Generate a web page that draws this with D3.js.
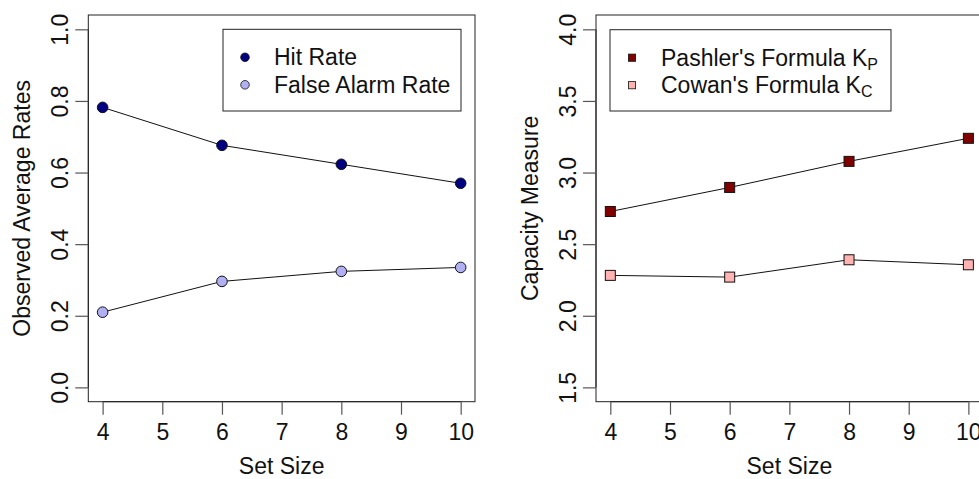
<!DOCTYPE html>
<html>
<head>
<meta charset="utf-8">
<script src="https://cdn.jsdelivr.net/npm/d3@7"></script>
<style>
  body { margin: 0; background: #fff; }
  svg { display: block; font-family: "Liberation Sans", Arial, Helvetica, sans-serif; }
</style>
</head>
<body>
<div id="chart"></div>
<script>
// values
const setSizes = [4, 6, 8, 10];
const hitRate = [0.782, 0.676, 0.623, 0.570];
const falseAlarmRate = [0.210, 0.296, 0.324, 0.335];
const pashlerK = [2.728, 2.896, 3.078, 3.239];
const cowanK = [2.282, 2.270, 2.391, 2.356];

const xTicks = [4, 5, 6, 7, 8, 9, 10];
const rateTicks = [0.0, 0.2, 0.4, 0.6, 0.8, 1.0];
const capTicks = [1.5, 2.0, 2.5, 3.0, 3.5, 4.0];

const width = 979;
const height = 479;
const fontSize = 23;

const svg = d3.select('#chart')
  .append('svg')
  .attr('width', width)
  .attr('height', height)
  .attr('font-size', fontSize);

// R-style 4% padding around the data range
function padded(lo, hi) {
  const d = (hi - lo) * 0.04;
  return [lo - d, hi + d];
}

function drawPanel(opts) {
  const { left, right, top, bottom } = opts.box;

  const x = d3.scaleLinear().domain(padded(4, 10)).range([left, right]);
  const y = d3.scaleLinear().domain(padded(opts.yMin, opts.yMax)).range([bottom, top]);

  const g = svg.append('g').attr('class', opts.name);

  // box
  g.append('rect')
    .attr('x', left)
    .attr('y', top)
    .attr('width', right - left)
    .attr('height', bottom - top)
    .attr('fill', 'none')
    .attr('stroke', '#222')
    .attr('stroke-width', 1);

  // x axis
  const xAxis = d3.axisBottom(x).tickValues(xTicks).tickSize(13).tickPadding(9).tickFormat(d3.format('d'));
  const gx = g.append('g').attr('transform', `translate(0,${bottom})`).call(xAxis);
  gx.select('.domain')
    .attr('d', `M${x(4)},0H${x(10)}`)
    .attr('stroke', '#222');
  gx.selectAll('.tick line').attr('stroke', '#555').attr('stroke-width', 1.2);
  gx.selectAll('.tick text')
    .attr('font-size', fontSize)
    .attr('font-family', 'inherit')
    .attr('fill', '#111');

  // y axis
  const yAxis = d3.axisLeft(y).tickValues(opts.yTicks).tickSize(13).tickFormat(d3.format('.1f'));
  const gy = g.append('g').attr('transform', `translate(${left},0)`).call(yAxis);
  gy.select('.domain')
    .attr('d', `M0,${y(opts.yMin)}V${y(opts.yMax)}`)
    .attr('stroke', '#222');
  gy.selectAll('.tick line').attr('stroke', '#555').attr('stroke-width', 1.2);
  gy.selectAll('.tick text')
    .attr('x', null)
    .attr('dy', null)
    .attr('transform', 'translate(-20.5,0) rotate(-90)')
    .attr('text-anchor', 'middle')
    .attr('font-size', fontSize)
    .attr('font-family', 'inherit')
    .attr('fill', '#111');

  // axis titles
  g.append('text')
    .attr('x', (left + right) / 2)
    .attr('y', 474)
    .attr('text-anchor', 'middle')
    .attr('fill', '#111')
    .text('Set Size');

  g.append('text')
    .attr('transform', `translate(${left - 58},${(top + bottom) / 2}) rotate(-90)`)
    .attr('text-anchor', 'middle')
    .attr('fill', '#111')
    .text(opts.yLabel);

  // series
  const line = d3.line().x(d => x(d[0])).y(d => y(d[1]));
  opts.series.forEach(s => {
    const pts = setSizes.map((v, i) => [v, s.values[i]]);
    g.append('path')
      .datum(pts)
      .attr('d', line)
      .attr('fill', 'none')
      .attr('stroke', '#111')
      .attr('stroke-width', 1);

    if (opts.shape === 'circle') {
      g.selectAll(null).data(pts).enter()
        .append('circle')
        .attr('cx', d => x(d[0]))
        .attr('cy', d => y(d[1]))
        .attr('r', 5.3)
        .attr('fill', s.color)
        .attr('stroke', '#111')
        .attr('stroke-width', 1);
    } else {
      g.selectAll(null).data(pts).enter()
        .append('rect')
        .attr('x', d => x(d[0]) - 5)
        .attr('y', d => y(d[1]) - 5)
        .attr('width', 10)
        .attr('height', 10)
        .attr('fill', s.color)
        .attr('stroke', '#111')
        .attr('stroke-width', 1);
    }
  });

  // legend
  const lg = opts.legend;
  g.append('rect')
    .attr('x', lg.x)
    .attr('y', lg.y)
    .attr('width', lg.w)
    .attr('height', lg.h)
    .attr('fill', '#fff')
    .attr('stroke', '#222')
    .attr('stroke-width', 1);

  opts.series.forEach((s, i) => {
    const cy = lg.y + 28 + i * 27.5;
    if (opts.shape === 'circle') {
      g.append('circle')
        .attr('cx', lg.x + 22)
        .attr('cy', cy)
        .attr('r', 4.3)
        .attr('fill', s.color)
        .attr('stroke', '#111')
        .attr('stroke-width', 0.8);
    } else {
      g.append('rect')
        .attr('x', lg.x + 22 - 3.6)
        .attr('y', cy - 3.6)
        .attr('width', 7.2)
        .attr('height', 7.2)
        .attr('fill', s.color)
        .attr('stroke', '#111')
        .attr('stroke-width', 0.8);
    }
    const t = g.append('text')
      .attr('x', lg.x + 51)
      .attr('y', cy + 8)
      .attr('fill', '#111')
      .text(s.label);
    if (s.sub) {
      t.append('tspan')
        .attr('font-size', 16)
        .attr('dy', 4)
        .text(s.sub);
    }
  });
}

drawPanel({
  name: 'rates',
  box: { left: 88.3, right: 475, top: 15, bottom: 401.7 },
  yMin: 0, yMax: 1,
  yTicks: rateTicks,
  yLabel: 'Observed Average Rates',
  shape: 'circle',
  series: [
    { label: 'Hit Rate', values: hitRate, color: '#000080' },
    { label: 'False Alarm Rate', values: falseAlarmRate, color: '#b0b0f2' }
  ],
  legend: { x: 223, y: 29.3, w: 238, h: 81.7 }
});

drawPanel({
  name: 'capacity',
  box: { left: 596, right: 982.7, top: 15, bottom: 401.7 },
  yMin: 1.5, yMax: 4,
  yTicks: capTicks,
  yLabel: 'Capacity Measure',
  shape: 'square',
  series: [
    { label: "Pashler's Formula K", sub: 'P', values: pashlerK, color: '#800000' },
    { label: "Cowan's Formula K", sub: 'C', values: cowanK, color: '#ffb3b3' }
  ],
  legend: { x: 610, y: 29.7, w: 281, h: 81.3 }
});
</script>
</body>
</html>
